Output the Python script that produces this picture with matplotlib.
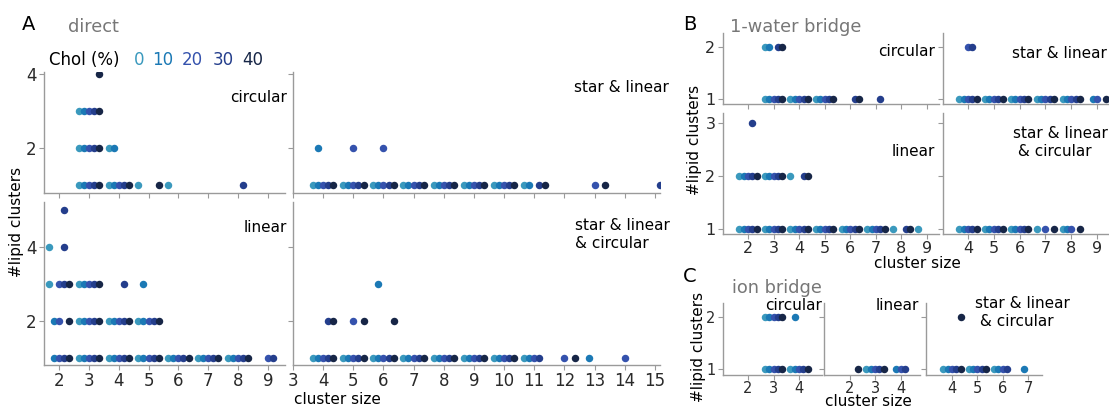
import matplotlib
matplotlib.use("Agg")
import matplotlib.pyplot as plt

# ---------------- data ----------------
CHOL = [0, 10, 20, 30, 40]
CHOL_COLORS = ["#3a99bd", "#1b79b5", "#3552ad", "#243e8c", "#172647"]
ALLC = [0, 10, 20, 30, 40]

# (cluster size, #lipid clusters, Chol % levels present)
direct_circular = [
    (3, 4, [40]), (3, 3, ALLC), (3, 2, ALLC), (4, 2, [0, 10]),
    (3, 1, ALLC), (4, 1, ALLC), (5, 1, [0, 40]), (6, 1, [0]), (8, 1, [30]),
]
direct_star_linear = [
    (4, 2, [10]), (5, 2, [20]), (6, 2, [20]),
    (4, 1, ALLC), (5, 1, ALLC), (6, 1, ALLC), (7, 1, ALLC), (8, 1, ALLC),
    (9, 1, ALLC), (10, 1, ALLC), (11, 1, [0, 10, 30, 40]), (13, 1, [20, 40]),
    (15, 1, [30]),
]
direct_linear = [
    (2, 5, [30]), (2, 4, [0, 30]),
    (2, 3, [0, 20, 30, 40]), (3, 3, ALLC), (4, 3, [30]), (5, 3, [10]),
    (2, 2, [10, 20, 40]), (3, 2, ALLC), (4, 2, ALLC), (5, 2, ALLC),
    (2, 1, [10, 20, 30, 40]), (3, 1, ALLC), (4, 1, ALLC), (5, 1, ALLC),
    (6, 1, ALLC), (7, 1, ALLC), (8, 1, ALLC), (9, 1, [20, 30]),
]
direct_star_linear_circular = [
    (6, 3, [10]),
    (4, 2, [30, 40]), (5, 2, [20, 40]), (6, 2, [40]),
    (4, 1, ALLC), (5, 1, ALLC), (6, 1, ALLC), (7, 1, ALLC), (8, 1, ALLC),
    (9, 1, ALLC), (10, 1, ALLC), (11, 1, [0, 10, 20, 30]), (12, 1, [20, 40]),
    (13, 1, [10]), (14, 1, [20]),
]
water_circular = [
    (3, 2, [0, 10, 30, 40]),
    (3, 1, ALLC), (4, 1, ALLC), (5, 1, ALLC), (6, 1, [30, 40]), (7, 1, [30]),
]
water_star_linear = [
    (4, 2, [20, 30]),
    (4, 1, ALLC), (5, 1, ALLC), (6, 1, ALLC), (7, 1, ALLC), (8, 1, ALLC),
    (9, 1, [10, 20, 40]),
]
water_linear = [
    (2, 3, [30]),
    (2, 2, ALLC), (3, 2, ALLC), (4, 2, [0, 30, 40]),
    (2, 1, ALLC), (3, 1, ALLC), (4, 1, ALLC), (5, 1, ALLC), (6, 1, ALLC),
    (7, 1, ALLC), (8, 1, [0, 30, 40]), (9, 1, [0]),
]
water_star_linear_circular = [
    (4, 1, ALLC), (5, 1, ALLC), (6, 1, ALLC), (7, 1, [0, 20, 40]),
    (8, 1, [0, 10, 20, 40]),
]
ion_circular = [
    (3, 2, ALLC), (4, 2, [10]), (3, 1, ALLC), (4, 1, ALLC),
]
ion_linear = [
    (2, 1, [40]), (3, 1, ALLC), (4, 1, [10, 20, 30]),
]
ion_star_linear_circular = [
    (4, 2, [40]), (4, 1, ALLC), (5, 1, ALLC), (6, 1, [0, 10, 20, 30]), (7, 1, [10]),
]

# ---------------- style ----------------
W, H = 1109, 408
SPINE = "#9a9a9a"
TICKLAB = "#2a2a2a"
TITLE_GRAY = "#777777"
DODGE = 0.17
DOT = 29

fig = plt.figure(figsize=(W / 100, H / 100), dpi=100)


def fx(x):
    return x / W


def fy(y):
    return 1 - y / H


def make_ax(l, t, r, b, xlim, ylim, xticks, yticks, xlab=True, ylab=True,
            lsize=12, xpad=1.2):
    ax = fig.add_axes([fx(l), fy(b), (r - l) / W, (b - t) / H])
    for s in ("top", "right"):
        ax.spines[s].set_visible(False)
    for s in ("left", "bottom"):
        ax.spines[s].set_color(SPINE)
        ax.spines[s].set_linewidth(1.0)
    ax.set_xlim(*xlim)
    ax.set_ylim(*ylim)
    ax.set_xticks(xticks)
    ax.set_yticks(yticks)
    ax.tick_params(direction="out", length=3.5, width=0.8, color=SPINE,
                   labelcolor=TICKLAB, labelsize=lsize, pad=2)
    ax.tick_params(axis="x", labelbottom=xlab, pad=xpad)
    ax.tick_params(axis="y", labelleft=ylab)
    ax.patch.set_alpha(0)
    return ax


def draw(ax, data):
    for size, n, levels in data:
        for c in levels:
            ci = CHOL.index(c)
            ax.scatter(size + (ci - 2) * DODGE, n, s=DOT, color=CHOL_COLORS[ci],
                       linewidths=0, zorder=3)


def label(x, y, s, ha="left", size=11, color="black", va="center", **kw):
    fig.text(fx(x), fy(y), s, ha=ha, va=va, fontsize=size, color=color, **kw)


# ---------------- panel A ----------------
a1 = make_ax(44, 72, 285, 193, (1.5, 9.57), (0.78, 4.05), range(2, 10), [2, 4], xlab=False)
a2 = make_ax(293, 72, 660, 193, (3.0, 15.17), (0.78, 4.05), range(3, 16), [2, 4], xlab=False, ylab=False)
a3 = make_ax(44, 202, 285, 365, (1.5, 9.57), (0.81, 5.22), range(2, 10), [2, 4])
a4 = make_ax(293, 202, 660, 365, (3.0, 15.17), (0.81, 5.22), range(3, 16), [2, 4], ylab=False)
draw(a1, direct_circular)
draw(a2, direct_star_linear)
draw(a3, direct_linear)
draw(a4, direct_star_linear_circular)

label(22, 25, "A", size=14)
label(68, 27, "direct", size=12.8, color=TITLE_GRAY)
label(49, 60, "Chol (%)", size=12)
for xpos, c, col in zip([134, 152, 182, 213, 242], CHOL, CHOL_COLORS):
    label(xpos, 60, str(c), size=12, color=col)
label(287, 97, "circular", ha="right")
label(669, 88, "star & linear", ha="right")
label(287, 227, "linear", ha="right")
fig.text(fx(575), fy(218), "star & linear\n& circular", ha="left", va="top",
         fontsize=11, linespacing=1.25)
fig.text(fx(17), fy(222), "#lipid clusters", rotation=90, ha="center", va="center", fontsize=11)
label(294, 404, "cluster size", size=11, va="baseline")

# ---------------- panel B ----------------
b1 = make_ax(723, 33, 939, 104, (1.02, 9.47), (0.9, 2.27), range(2, 10), [1, 2], xlab=False, lsize=11.5)
b2 = make_ax(943, 33, 1109, 104, (3.03, 9.46), (0.9, 2.27), range(4, 10), [1, 2], xlab=False, ylab=False, lsize=11.5)
b3 = make_ax(723, 113, 939, 234, (1.02, 9.47), (0.9, 3.19), range(2, 10), [1, 2, 3], lsize=11.5)
b4 = make_ax(943, 113, 1109, 234, (3.03, 9.46), (0.9, 3.19), range(4, 10), [1, 2, 3], ylab=False, lsize=11.5)
draw(b1, water_circular)
draw(b2, water_star_linear)
draw(b3, water_linear)
draw(b4, water_star_linear_circular)

label(683, 24, "B", size=14)
label(730, 27, "1-water bridge", size=12.8, color=TITLE_GRAY)
label(935, 52, "circular", ha="right")
label(1107, 53, "star & linear", ha="right")
label(935, 152, "linear", ha="right")
fig.text(fx(1013), fy(126), "star & linear\n & circular", ha="left", va="top",
         fontsize=11, linespacing=1.25)
fig.text(fx(695), fy(140), "#lipid clusters", rotation=90, ha="center", va="center", fontsize=11)
label(917, 268, "cluster size", ha="center", va="baseline")

# ---------------- panel C ----------------
c1 = make_ax(723, 303, 822, 375, (1.02, 4.9), (0.885, 2.27), [2, 3, 4], [1, 2], lsize=10.5, xpad=0.5)
c2 = make_ax(824, 303, 920, 375, (1.0, 4.76), (0.885, 2.27), [2, 3, 4], [1, 2], ylab=False, lsize=10.5, xpad=0.5)
c3 = make_ax(926, 303, 1042, 375, (2.97, 7.55), (0.885, 2.27), [4, 5, 6, 7], [1, 2], ylab=False, lsize=10.5, xpad=0.5)
draw(c1, ion_circular)
draw(c2, ion_linear)
draw(c3, ion_star_linear_circular)

label(683, 276, "C", size=14)
label(732, 288, "ion bridge", size=12.8, color=TITLE_GRAY)
label(822, 305, "circular", ha="right")
label(919, 305, "linear", ha="right")
fig.text(fx(975), fy(296), "star & linear\n & circular", ha="left", va="top",
         fontsize=11, linespacing=1.25)
fig.text(fx(698), fy(347), "#lipid clusters", rotation=90, ha="center", va="center", fontsize=11)
label(868, 406.5, "cluster size", ha="center", va="baseline")

fig.savefig("out.png", dpi=100)
